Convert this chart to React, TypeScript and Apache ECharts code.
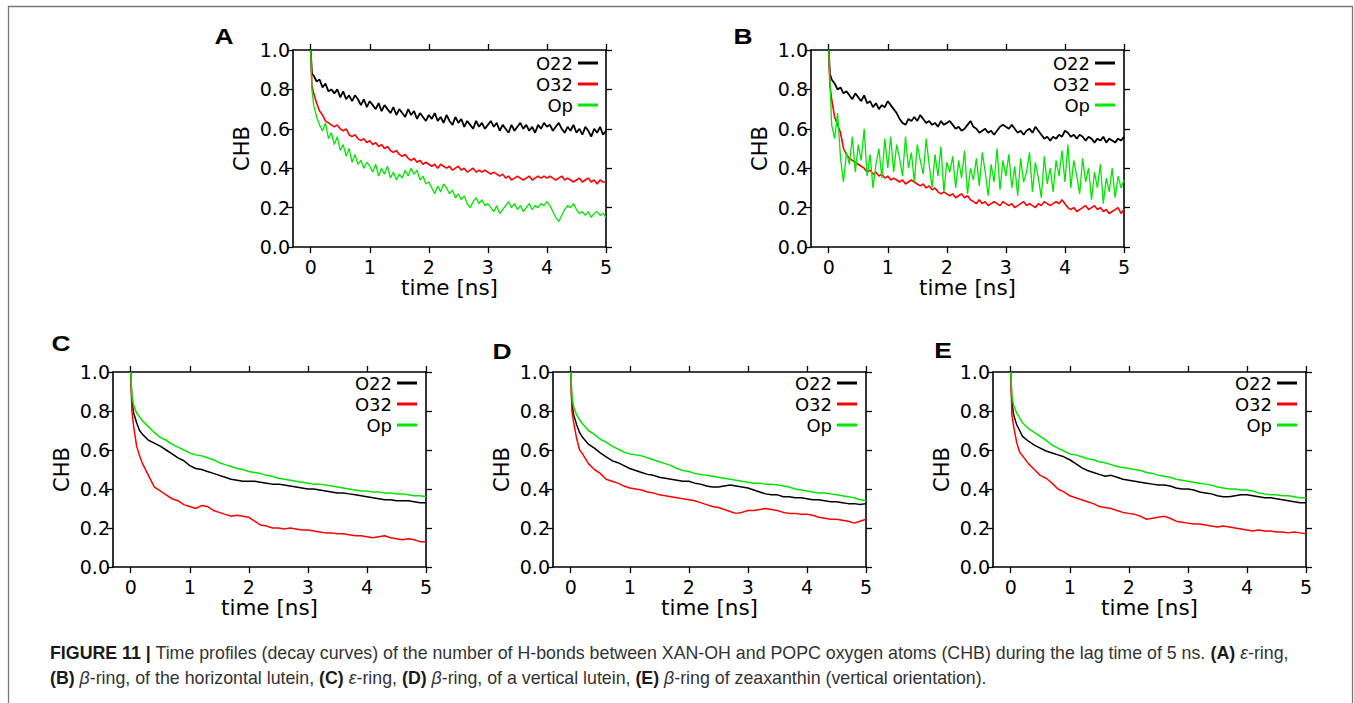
import React, { useEffect, useRef } from "react";
import * as echarts from "echarts";

// ---------- time grids (ns) ----------
const T_AB = [
  0, 0.02,
  0.05, 0.1, 0.15, 0.2, 0.25, 0.3, 0.35, 0.4, 0.45, 0.5, 0.55, 0.6, 0.65, 0.7, 0.75, 0.8, 0.85, 0.9, 0.95, 1.0,
  1.05, 1.1, 1.15, 1.2, 1.25, 1.3, 1.35, 1.4, 1.45, 1.5, 1.55, 1.6, 1.65, 1.7, 1.75, 1.8, 1.85, 1.9, 1.95, 2.0,
  2.05, 2.1, 2.15, 2.2, 2.25, 2.3, 2.35, 2.4, 2.45, 2.5, 2.55, 2.6, 2.65, 2.7, 2.75, 2.8, 2.85, 2.9, 2.95, 3.0,
  3.05, 3.1, 3.15, 3.2, 3.25, 3.3, 3.35, 3.4, 3.45, 3.5, 3.55, 3.6, 3.65, 3.7, 3.75, 3.8, 3.85, 3.9, 3.95, 4.0,
  4.05, 4.1, 4.15, 4.2, 4.25, 4.3, 4.35, 4.4, 4.45, 4.5, 4.55, 4.6, 4.65, 4.7, 4.75, 4.8, 4.85, 4.9, 4.95, 5.0,
];
const T_CDE = [
  0, 0.02, 0.05, 0.1, 0.15,
  0.2, 0.3, 0.4, 0.5, 0.6, 0.7, 0.8, 0.9, 1.0,
  1.1, 1.2, 1.3, 1.4, 1.5, 1.6, 1.7, 1.8, 1.9, 2.0,
  2.1, 2.2, 2.3, 2.4, 2.5, 2.6, 2.7, 2.8, 2.9, 3.0,
  3.1, 3.2, 3.3, 3.4, 3.5, 3.6, 3.7, 3.8, 3.9, 4.0,
  4.1, 4.2, 4.3, 4.4, 4.5, 4.6, 4.7, 4.8, 4.9, 5.0,
];

// ---------- Panel A (epsilon-ring, horizontal lutein) ----------
const A_O22 = [
  1.0, 0.88,
  0.87, 0.84, 0.85, 0.81, 0.83, 0.79, 0.80, 0.78, 0.80, 0.76, 0.79, 0.75, 0.77, 0.74, 0.77, 0.75, 0.72, 0.75, 0.71, 0.74,
  0.72, 0.70, 0.73, 0.69, 0.72, 0.70, 0.68, 0.71, 0.67, 0.70, 0.68, 0.66, 0.70, 0.67, 0.69, 0.65, 0.68, 0.66, 0.64, 0.67,
  0.65, 0.68, 0.64, 0.66, 0.63, 0.67, 0.64, 0.62, 0.66, 0.63, 0.65, 0.61, 0.64, 0.62, 0.60, 0.64, 0.61, 0.63, 0.60, 0.62,
  0.64, 0.61, 0.63, 0.59, 0.62, 0.60, 0.58, 0.62, 0.59, 0.61, 0.63, 0.60, 0.62, 0.59, 0.61, 0.58, 0.62, 0.60, 0.63, 0.61,
  0.62, 0.59, 0.61, 0.63, 0.60, 0.58, 0.61, 0.59, 0.62, 0.58, 0.60, 0.57, 0.61, 0.59, 0.56, 0.60, 0.58, 0.61, 0.57, 0.59,
];
const A_O32 = [
  1.0, 0.82,
  0.78, 0.73, 0.69, 0.67, 0.64, 0.63, 0.62, 0.61, 0.62, 0.60, 0.59, 0.60, 0.57, 0.56, 0.57, 0.55, 0.54, 0.55, 0.53, 0.54,
  0.52, 0.53, 0.51, 0.52, 0.50, 0.51, 0.49, 0.48, 0.49, 0.47, 0.46, 0.47, 0.45, 0.44, 0.45, 0.43, 0.44, 0.42, 0.43, 0.42,
  0.41, 0.42, 0.40, 0.42, 0.41, 0.40, 0.41, 0.39, 0.40, 0.41, 0.39, 0.40, 0.38, 0.39, 0.40, 0.38, 0.39, 0.38, 0.39, 0.38,
  0.37, 0.38, 0.37, 0.36, 0.37, 0.35, 0.36, 0.34, 0.35, 0.36, 0.35, 0.34, 0.35, 0.36, 0.34, 0.35, 0.36, 0.35, 0.36, 0.35,
  0.36, 0.35, 0.34, 0.35, 0.36, 0.34, 0.35, 0.34, 0.33, 0.34, 0.35, 0.33, 0.34, 0.35, 0.33, 0.34, 0.32, 0.34, 0.33, 0.33,
];
const A_OP = [
  1.0, 0.80,
  0.72, 0.66, 0.62, 0.59, 0.63, 0.55, 0.58, 0.52, 0.56, 0.49, 0.52, 0.46, 0.50, 0.43, 0.47, 0.42, 0.44, 0.40, 0.43, 0.41,
  0.38, 0.42, 0.36, 0.40, 0.37, 0.41, 0.35, 0.38, 0.34, 0.37, 0.35, 0.39, 0.36, 0.40, 0.37, 0.39, 0.34, 0.36, 0.32, 0.33,
  0.30, 0.27, 0.31, 0.28, 0.32, 0.30, 0.27, 0.29, 0.25, 0.27, 0.24, 0.26, 0.22, 0.20, 0.23, 0.25, 0.22, 0.24, 0.21, 0.22,
  0.20, 0.18, 0.21, 0.17, 0.19, 0.21, 0.23, 0.20, 0.22, 0.19, 0.21, 0.18, 0.20, 0.22, 0.19, 0.21, 0.20, 0.22, 0.21, 0.23,
  0.21, 0.18, 0.15, 0.13, 0.16, 0.19, 0.21, 0.20, 0.22, 0.19, 0.17, 0.18, 0.16, 0.18, 0.15, 0.17, 0.18, 0.16, 0.17, 0.15,
];

// ---------- Panel B (beta-ring, horizontal lutein) ----------
const B_O22 = [
  1.0, 0.88,
  0.85, 0.83, 0.80, 0.81, 0.78, 0.79, 0.77, 0.75, 0.78, 0.76, 0.74, 0.77, 0.73, 0.74, 0.71, 0.73, 0.70, 0.72, 0.71, 0.74,
  0.72, 0.70, 0.68, 0.65, 0.63, 0.62, 0.65, 0.64, 0.66, 0.64, 0.67, 0.65, 0.63, 0.64, 0.62, 0.63, 0.61, 0.64, 0.62, 0.63,
  0.64, 0.62, 0.60, 0.61, 0.59, 0.60, 0.62, 0.64, 0.61, 0.60, 0.58, 0.59, 0.60, 0.58, 0.59, 0.57, 0.59, 0.61, 0.62, 0.61,
  0.60, 0.62, 0.60, 0.58, 0.59, 0.57, 0.59, 0.60, 0.58, 0.61, 0.59, 0.57, 0.55, 0.56, 0.54, 0.56, 0.55, 0.57, 0.56, 0.59,
  0.58, 0.56, 0.57, 0.55, 0.57, 0.56, 0.54, 0.56, 0.55, 0.53, 0.55, 0.54, 0.56, 0.53, 0.55, 0.54, 0.53, 0.55, 0.54, 0.56,
];
const B_O32 = [
  1.0, 0.82,
  0.75, 0.66, 0.62, 0.58, 0.50, 0.47, 0.45, 0.44, 0.43, 0.42, 0.41, 0.40, 0.38, 0.39, 0.37, 0.38, 0.36, 0.37, 0.35, 0.36,
  0.34, 0.35, 0.34, 0.33, 0.34, 0.32, 0.33, 0.34, 0.33, 0.32, 0.31, 0.32, 0.30, 0.31, 0.29, 0.30, 0.28, 0.27, 0.28, 0.27,
  0.26, 0.27, 0.25, 0.26, 0.27, 0.25, 0.26, 0.24, 0.23, 0.22, 0.24, 0.22, 0.23, 0.21, 0.22, 0.23, 0.22, 0.21, 0.23, 0.22,
  0.21, 0.22, 0.20, 0.21, 0.22, 0.23, 0.21, 0.22, 0.21, 0.20, 0.22, 0.21, 0.23, 0.22, 0.21, 0.22, 0.23, 0.22, 0.24, 0.22,
  0.20, 0.19, 0.20, 0.18, 0.19, 0.20, 0.21, 0.19, 0.20, 0.21, 0.19, 0.20, 0.18, 0.19, 0.17, 0.18, 0.19, 0.20, 0.17, 0.19,
];
const B_OP = [
  1.0, 0.85,
  0.62, 0.55, 0.68, 0.45, 0.33, 0.48, 0.42, 0.56, 0.38, 0.52, 0.44, 0.60, 0.36, 0.47, 0.30, 0.42, 0.50, 0.35, 0.55, 0.40,
  0.56, 0.38, 0.52, 0.45, 0.36, 0.56, 0.40, 0.48, 0.33, 0.52, 0.44, 0.37, 0.55, 0.42, 0.30, 0.47, 0.36, 0.51, 0.28, 0.43,
  0.38, 0.46, 0.30, 0.44, 0.35, 0.49, 0.27, 0.40, 0.34, 0.45, 0.31, 0.48, 0.38, 0.26, 0.42, 0.33, 0.50, 0.29, 0.44, 0.36,
  0.47, 0.30, 0.41, 0.26, 0.45, 0.33, 0.38, 0.48, 0.28, 0.43, 0.35, 0.25, 0.46, 0.32, 0.40, 0.28, 0.44, 0.36, 0.49, 0.33,
  0.52, 0.30, 0.44, 0.36, 0.27, 0.45, 0.33, 0.40, 0.24, 0.38, 0.30, 0.42, 0.22, 0.35, 0.28, 0.40, 0.25, 0.36, 0.30, 0.34,
];

// ---------- Panel C (epsilon-ring, vertical lutein) ----------
const C_O22 = [
  1.0, 0.85, 0.79, 0.74, 0.70,
  0.68, 0.65, 0.635, 0.62, 0.60, 0.58, 0.56, 0.545, 0.52,
  0.505, 0.50, 0.49, 0.48, 0.47, 0.46, 0.45, 0.445, 0.44, 0.44,
  0.44, 0.435, 0.43, 0.425, 0.425, 0.42, 0.415, 0.41, 0.405, 0.40,
  0.40, 0.395, 0.39, 0.385, 0.38, 0.38, 0.375, 0.37, 0.365, 0.36,
  0.355, 0.35, 0.345, 0.345, 0.34, 0.34, 0.34, 0.335, 0.33, 0.33,
];
const C_O32 = [
  1.0, 0.80, 0.72, 0.62, 0.57,
  0.53, 0.47, 0.41, 0.39, 0.37, 0.35, 0.34, 0.32, 0.31,
  0.30, 0.315, 0.31, 0.29, 0.28, 0.27, 0.26, 0.265, 0.26, 0.255,
  0.235, 0.215, 0.21, 0.20, 0.20, 0.195, 0.20, 0.195, 0.19, 0.19,
  0.185, 0.18, 0.175, 0.175, 0.17, 0.17, 0.165, 0.16, 0.16, 0.155,
  0.15, 0.155, 0.16, 0.15, 0.145, 0.14, 0.145, 0.14, 0.13, 0.13,
];
const C_OP = [
  1.0, 0.88, 0.83, 0.79, 0.77,
  0.75, 0.72, 0.69, 0.665, 0.65, 0.63, 0.615, 0.60, 0.585,
  0.575, 0.57, 0.56, 0.55, 0.535, 0.525, 0.515, 0.505, 0.50, 0.49,
  0.485, 0.48, 0.47, 0.465, 0.455, 0.45, 0.445, 0.44, 0.435, 0.43,
  0.425, 0.425, 0.42, 0.415, 0.41, 0.405, 0.40, 0.395, 0.39, 0.39,
  0.385, 0.385, 0.38, 0.38, 0.375, 0.375, 0.37, 0.365, 0.365, 0.36,
];

// ---------- Panel D (beta-ring, vertical lutein) ----------
const D_O22 = [
  1.0, 0.84, 0.78, 0.73, 0.69,
  0.665, 0.63, 0.61, 0.585, 0.565, 0.545, 0.535, 0.52, 0.505,
  0.495, 0.485, 0.475, 0.47, 0.46, 0.455, 0.45, 0.445, 0.44, 0.44,
  0.43, 0.425, 0.415, 0.41, 0.41, 0.415, 0.42, 0.415, 0.41, 0.405,
  0.395, 0.385, 0.375, 0.37, 0.37, 0.36, 0.36, 0.355, 0.355, 0.35,
  0.345, 0.345, 0.34, 0.335, 0.335, 0.33, 0.325, 0.325, 0.32, 0.325,
];
const D_O32 = [
  1.0, 0.80, 0.74, 0.66, 0.60,
  0.58, 0.53, 0.50, 0.48, 0.45, 0.44, 0.43, 0.415, 0.405,
  0.40, 0.395, 0.385, 0.38, 0.37, 0.365, 0.36, 0.355, 0.35, 0.345,
  0.34, 0.33, 0.32, 0.31, 0.305, 0.295, 0.285, 0.275, 0.28, 0.29,
  0.29, 0.295, 0.30, 0.295, 0.29, 0.28, 0.275, 0.275, 0.27, 0.27,
  0.265, 0.255, 0.25, 0.245, 0.245, 0.24, 0.235, 0.225, 0.235, 0.245,
];
const D_OP = [
  1.0, 0.88, 0.82, 0.78, 0.755,
  0.735, 0.70, 0.68, 0.655, 0.64, 0.62, 0.605, 0.59, 0.58,
  0.575, 0.57, 0.56, 0.55, 0.54, 0.53, 0.52, 0.505, 0.495, 0.49,
  0.48, 0.475, 0.47, 0.465, 0.46, 0.455, 0.45, 0.445, 0.44, 0.435,
  0.43, 0.43, 0.425, 0.425, 0.42, 0.415, 0.41, 0.40, 0.395, 0.39,
  0.385, 0.38, 0.38, 0.375, 0.37, 0.365, 0.36, 0.355, 0.345, 0.34,
];

// ---------- Panel E (beta-ring, zeaxanthin) ----------
const E_O22 = [
  1.0, 0.84, 0.78, 0.73, 0.70,
  0.67, 0.645, 0.625, 0.61, 0.595, 0.585, 0.575, 0.565, 0.55,
  0.53, 0.51, 0.495, 0.485, 0.475, 0.465, 0.47, 0.46, 0.45, 0.445,
  0.44, 0.435, 0.43, 0.425, 0.42, 0.42, 0.415, 0.405, 0.40, 0.40,
  0.395, 0.385, 0.38, 0.375, 0.365, 0.36, 0.36, 0.365, 0.37, 0.37,
  0.365, 0.36, 0.355, 0.355, 0.35, 0.345, 0.34, 0.335, 0.33, 0.33,
];
const E_O32 = [
  1.0, 0.78, 0.72, 0.64, 0.59,
  0.57, 0.53, 0.50, 0.47, 0.455, 0.43, 0.40, 0.385, 0.365,
  0.355, 0.345, 0.335, 0.325, 0.31, 0.305, 0.30, 0.29, 0.28, 0.275,
  0.27, 0.26, 0.245, 0.25, 0.255, 0.26, 0.25, 0.235, 0.23, 0.225,
  0.22, 0.22, 0.215, 0.21, 0.205, 0.21, 0.205, 0.20, 0.195, 0.19,
  0.185, 0.19, 0.185, 0.185, 0.18, 0.18, 0.175, 0.18, 0.175, 0.17,
];
const E_OP = [
  1.0, 0.88, 0.83, 0.79, 0.765,
  0.74, 0.71, 0.69, 0.67, 0.65, 0.625, 0.61, 0.595, 0.58,
  0.575, 0.565, 0.555, 0.55, 0.54, 0.535, 0.525, 0.515, 0.51, 0.505,
  0.50, 0.495, 0.485, 0.48, 0.47, 0.465, 0.46, 0.45, 0.445, 0.44,
  0.435, 0.43, 0.425, 0.42, 0.41, 0.405, 0.40, 0.40, 0.395, 0.395,
  0.39, 0.38, 0.375, 0.37, 0.37, 0.365, 0.365, 0.36, 0.355, 0.355,
];

const SERIES_NAMES = ["O22", "O32", "Op"];
const SERIES_COLORS = ["#000000", "#ff0000", "#00e600"];
const X_TICKS = [0, 1, 2, 3, 4, 5];
const PANEL_LETTERS = ["A", "B", "C", "D", "E"];

const CAPTION_1 =
  "{b|FIGURE 11 |} Time profiles (decay curves) of the number of H-bonds between XAN-OH and POPC oxygen atoms (CHB) during the lag time of 5 ns. {b|(A)} {i|ε}-ring,";
const CAPTION_2 =
  "{b|(B)} {i|β}-ring, of the horizontal lutein, {b|(C)} {i|ε}-ring, {b|(D)} {i|β}-ring, of a vertical lutein, {b|(E)} {i|β}-ring of zeaxanthin (vertical orientation).";

const FONT = "DejaVu Sans";

const PANELS = [
  { t: T_AB, data: [A_O22, A_O32, A_OP], grid: { left: 293, top: 50, width: 313, height: 197 }, letter: [224, 36], legendRight: 756, legendTop: 54, lw: [1.8, 1.6, 1.3] },
  { t: T_AB, data: [B_O22, B_O32, B_OP], grid: { left: 811, top: 50, width: 313, height: 197 }, letter: [743, 36], legendRight: 239, legendTop: 54, lw: [1.8, 1.6, 1.3] },
  { t: T_CDE, data: [C_O22, C_O32, C_OP], grid: { left: 113, top: 372, width: 313, height: 195 }, letter: [61, 343], legendRight: 937, legendTop: 374, lw: [1.5, 1.5, 1.5] },
  { t: T_CDE, data: [D_O22, D_O32, D_OP], grid: { left: 553, top: 372, width: 313, height: 195 }, letter: [502, 351], legendRight: 497, legendTop: 374, lw: [1.5, 1.5, 1.5] },
  { t: T_CDE, data: [E_O22, E_O32, E_OP], grid: { left: 993, top: 372, width: 313, height: 195 }, letter: [943, 350], legendRight: 57, legendTop: 374, lw: [1.5, 1.5, 1.5] },
];

function buildOption() {
  const grid: any[] = [];
  const xAxis: any[] = [];
  const yAxis: any[] = [];
  const series: any[] = [];
  const legend: any[] = [];
  const graphic: any[] = [];

  const axisLine = { show: true, onZero: false, lineStyle: { color: "#000", width: 1.6 } };
  const tick = (custom?: number[]) => ({
    show: true, inside: false, length: 6, ...(custom ? { customValues: custom } : {}),
    lineStyle: { color: "#000", width: 1.3 },
  });

  PANELS.forEach((p, i) => {
    grid.push({ ...p.grid, containLabel: false });
    xAxis.push({
      gridIndex: i, type: "value", position: "bottom", min: -0.3, max: 5,
      axisLine, splitLine: { show: false }, axisTick: tick(X_TICKS),
      axisLabel: { show: true, customValues: X_TICKS, fontSize: 19, fontFamily: FONT, color: "#000", margin: 10 },
      name: "time [ns]", nameLocation: "middle", nameGap: 20,
      nameTextStyle: { fontSize: 21.5, fontFamily: FONT, color: "#000" },
    });
    xAxis.push({
      gridIndex: i, type: "value", position: "top", min: -0.3, max: 5,
      axisLine, splitLine: { show: false }, axisTick: tick(X_TICKS),
      axisLabel: { show: false },
    });
    yAxis.push({
      gridIndex: i, type: "value", position: "left", min: 0, max: 1, interval: 0.2,
      axisLine, splitLine: { show: false }, axisTick: tick(),
      axisLabel: { show: true, fontSize: 19, fontFamily: FONT, color: "#000", margin: 3, formatter: (v: number) => v.toFixed(1) },
      name: "CHB", nameLocation: "middle", nameGap: 41, nameRotate: 90,
      nameTextStyle: { fontSize: 21, fontFamily: FONT, color: "#000" },
    });
    yAxis.push({
      gridIndex: i, type: "value", position: "right", min: 0, max: 1, interval: 0.2,
      axisLine, splitLine: { show: false }, axisTick: tick(),
      axisLabel: { show: false },
    });
    p.data.forEach((vals, k) => {
      const pts = p.t.slice(0, vals.length).map((t, j) => [t, vals[j]]);
      series.push({
        type: "line", name: SERIES_NAMES[k], xAxisIndex: 2 * i, yAxisIndex: 2 * i,
        data: pts, showSymbol: false, symbol: "none", silent: true,
        color: SERIES_COLORS[k], lineStyle: { color: SERIES_COLORS[k], width: p.lw[k] },
        z: 2 + k,
      });
    });
    legend.push({
      data: SERIES_NAMES, orient: "vertical", right: p.legendRight, top: p.legendTop,
      align: "right", icon: "rect", itemWidth: 20, itemHeight: 3, itemGap: 3, padding: 0,
      selectedMode: false,
      textStyle: { fontSize: 18, fontFamily: FONT, color: "#000", padding: [0, 0, 0, 0] },
    });
    graphic.push({
      type: "text", x: p.letter[0], y: p.letter[1], scaleX: 1.2,
      style: { text: PANEL_LETTERS[i], fontSize: 22, fontWeight: "bold", fontFamily: "Liberation Sans", fill: "#000", align: "center", verticalAlign: "middle" },
    });
  });

  const rich = {
    b: { fontWeight: "bold", fontSize: 17.8, fontFamily: "Liberation Sans", fill: "#1a1a1a" },
    i: { fontStyle: "italic", fontSize: 17.8, fontFamily: "Liberation Sans", fill: "#333" },
  };
  graphic.push({
    type: "text", x: 50, y: 653,
    style: { text: CAPTION_1, rich, fontSize: 17.8, fontFamily: "Liberation Sans", fill: "#333", verticalAlign: "middle" },
  });
  graphic.push({
    type: "text", x: 50, y: 678,
    style: { text: CAPTION_2, rich, fontSize: 17.8, fontFamily: "Liberation Sans", fill: "#333", verticalAlign: "middle" },
  });
  graphic.push({
    type: "rect", shape: { x: 8.5, y: 6.5, width: 1344, height: 720 },
    style: { fill: "none", stroke: "#777", lineWidth: 1.3 }, silent: true,
  });

  return { animation: false, backgroundColor: "#fff", grid, xAxis, yAxis, series, legend, graphic };
}

export default function App() {
  const ref = useRef<HTMLDivElement>(null);
  useEffect(() => {
    if (!ref.current) return;
    const chart = echarts.init(ref.current, undefined, { renderer: "svg" });
    chart.setOption(buildOption() as any);
    return () => chart.dispose();
  }, []);
  return <div ref={ref} style={{ position: "absolute", left: 0, top: 0, width: 1354, height: 703 }} />;
}
